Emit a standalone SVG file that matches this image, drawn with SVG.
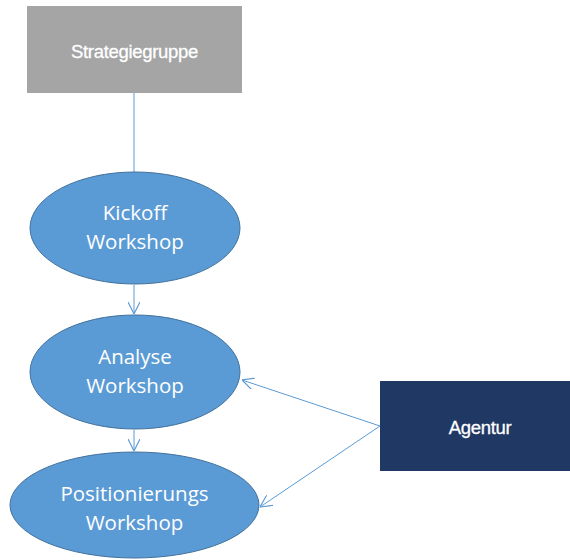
<svg xmlns="http://www.w3.org/2000/svg" width="570" height="560" viewBox="0 0 570 560">
<defs>
<style>
.ell{fill:#5b9bd5;stroke:#41719c;stroke-width:1}
.et{font-family:"Open Sans","Noto Sans",sans-serif;font-size:20.5px;fill:#fff;text-anchor:middle}
.rt{font-family:"Liberation Sans",Arial,sans-serif;font-size:18.5px;fill:#fff;stroke:#fff;stroke-width:0.3;text-anchor:middle;letter-spacing:-0.3px}
.con{stroke:#5b9bd5;stroke-width:1;fill:none}
</style>
<marker id="arr" markerWidth="12" markerHeight="12" refX="10" refY="5" orient="auto" markerUnits="userSpaceOnUse" viewBox="0 0 10 10">
<path d="M0,0 L10,5 L0,10" fill="none" stroke="#5b9bd5" stroke-width="1"/>
</marker>
</defs>
<rect width="570" height="560" fill="#fff"/>
<g id="connectors">
<line class="con" x1="134" y1="93" x2="134" y2="172"/>
<line class="con" x1="134" y1="285" x2="134" y2="314" marker-end="url(#arr)"/>
<line class="con" x1="134" y1="430" x2="134" y2="451" marker-end="url(#arr)"/>
<line class="con" x1="380" y1="426" x2="242" y2="380" marker-end="url(#arr)"/>
<line class="con" x1="380" y1="426" x2="260" y2="507" marker-end="url(#arr)"/>
</g>
<g id="strategiegruppe">
<rect x="27" y="6" width="215" height="87" fill="#a5a5a5"/>
<text class="rt" x="134.5" y="58">Strategiegruppe</text>
</g>
<g id="kickoff">
<ellipse class="ell" cx="135" cy="228" rx="105" ry="56"/>
<text class="et" x="135" y="220">Kickoff</text>
<text class="et" x="135" y="249">Workshop</text>
</g>
<g id="analyse">
<ellipse class="ell" cx="135" cy="372" rx="105" ry="57"/>
<text class="et" x="135" y="364">Analyse</text>
<text class="et" x="135" y="393">Workshop</text>
</g>
<g id="positionierung">
<ellipse class="ell" cx="134.5" cy="505" rx="124.5" ry="53"/>
<text class="et" x="134.5" y="501">Positionierungs</text>
<text class="et" x="134.5" y="530">Workshop</text>
</g>
<g id="agentur">
<rect x="380" y="381" width="190" height="90" fill="#203864"/>
<text class="rt" x="480" y="434">Agentur</text>
</g>
</svg>
